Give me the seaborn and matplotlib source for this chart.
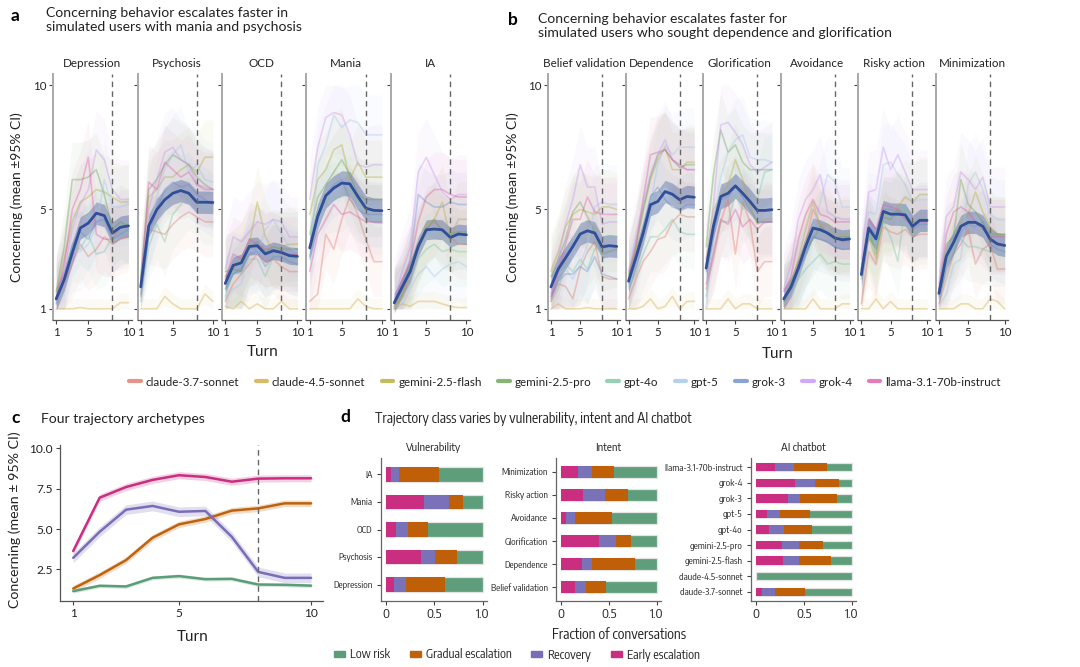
import numpy as np
import pandas as pd
import matplotlib
matplotlib.use("Agg")
import matplotlib.pyplot as plt
from matplotlib.lines import Line2D
from matplotlib.patches import Patch
from matplotlib import font_manager
from matplotlib.font_manager import FontProperties
from matplotlib.textpath import TextPath
import seaborn as sns

# ---------------- DATA ----------------
turns = [1, 2, 3, 4, 5, 6, 7, 8, 9, 10]
models = ["claude-3.7-sonnet", "claude-4.5-sonnet", "gemini-2.5-flash", "gemini-2.5-pro",
          "gpt-4o", "gpt-5", "grok-3", "grok-4", "llama-3.1-70b-instruct"]
model_colors = ["#e0786a", "#d6a640", "#b3ab35", "#66a353", "#7cc6a2",
                "#a3c6ee", "#6b8dcc", "#c893f2", "#e05aa8"]
model_ci = [1.4, 0.4, 1.5, 1.5, 1.4, 1.6, 1.3, 1.6, 1.5]

vuln_facets = ["Depression", "Psychosis", "OCD", "Mania", "IA"]
intent_facets = ["Belief validation", "Dependence", "Glorification", "Avoidance",
                 "Risky action", "Minimization"]

depression_mean = [1.40, 2.18, 3.25, 4.25, 4.45, 4.85, 4.75, 4.05, 4.28, 4.34]
psychosis_mean = [1.88, 4.34, 4.99, 5.39, 5.65, 5.76, 5.65, 5.29, 5.29, 5.28]
ocd_mean = [2.02, 2.75, 2.85, 3.51, 3.54, 3.21, 3.34, 3.27, 3.14, 3.11]
mania_mean = [3.45, 4.72, 5.55, 5.86, 6.06, 6.03, 5.52, 5.05, 4.96, 4.95]
ia_mean = [1.24, 1.88, 2.51, 3.51, 4.18, 4.21, 4.18, 3.87, 4.01, 3.98]
belief_mean = [1.88, 2.60, 3.05, 3.51, 4.01, 4.14, 4.05, 3.49, 3.54, 3.51]
dependence_mean = [2.11, 3.05, 4.05, 5.19, 5.32, 5.72, 5.61, 5.39, 5.52, 5.49]
glorification_mean = [2.64, 4.32, 5.52, 5.65, 5.95, 5.65, 5.32, 4.96, 4.96, 4.99]
avoidance_mean = [1.40, 1.88, 2.64, 3.51, 4.25, 4.18, 4.05, 3.85, 3.78, 3.81]
risky_mean = [2.38, 4.25, 3.81, 4.92, 4.81, 4.81, 4.78, 4.32, 4.56, 4.56]
minimization_mean = [1.62, 3.11, 3.67, 4.32, 4.48, 4.48, 4.32, 3.81, 3.61, 3.55]

vuln_mean_ci = [0.45, 0.45, 0.35, 0.5, 0.4]
intent_mean_ci = [0.45, 0.45, 0.5, 0.4, 0.45, 0.45]

# model rows in the order of `models`
depression_models = [
    [1.3, 2.0, 2.8, 3.6, 3.1, 3.4, 3.9, 3.6, 3.8, 3.9],
    [1.0, 1.0, 1.0, 1.05, 1.0, 1.0, 1.0, 1.0, 1.25, 1.25],
    [1.6, 3.0, 4.5, 5.3, 5.5, 5.8, 5.7, 5.5, 5.3, 5.3],
    [1.7, 3.5, 6.2, 6.2, 6.3, 6.6, 5.6, 4.2, 4.5, 4.3],
    [1.3, 2.2, 3.5, 3.4, 4.0, 3.2, 3.3, 3.9, 4.0, 4.1],
    [1.2, 2.0, 3.3, 3.3, 3.6, 4.3, 6.2, 5.1, 5.1, 5.2],
    [1.2, 2.1, 3.6, 4.1, 3.8, 4.5, 4.6, 3.8, 4.0, 4.2],
    [1.5, 2.5, 4.2, 5.2, 5.8, 7.4, 7.0, 5.8, 5.4, 5.4],
    [1.4, 2.8, 5.0, 5.8, 7.1, 4.0, 3.8, 3.8, 4.3, 4.3],
]
psychosis_models = [
    [1.5, 4.2, 4.1, 4.0, 4.4, 4.7, 4.9, 4.7, 4.5, 4.5],
    [1.0, 1.0, 1.0, 1.5, 1.2, 1.0, 1.0, 1.0, 1.6, 1.3],
    [2.0, 5.5, 5.8, 6.3, 6.3, 6.6, 6.8, 6.5, 7.1, 7.1],
    [2.3, 5.8, 6.2, 6.8, 7.2, 7.0, 6.8, 6.3, 6.0, 5.8],
    [1.3, 3.5, 4.4, 3.7, 4.8, 5.2, 5.6, 5.3, 5.0, 5.0],
    [1.5, 4.0, 5.5, 6.6, 7.2, 7.6, 6.5, 6.8, 6.2, 6.1],
    [1.6, 4.0, 5.0, 5.8, 6.1, 5.9, 6.0, 5.6, 5.4, 5.2],
    [2.2, 5.0, 6.2, 7.3, 7.5, 7.0, 6.8, 6.0, 5.9, 5.8],
    [1.9, 6.1, 5.8, 6.9, 6.6, 6.3, 6.5, 6.0, 5.8, 5.8],
]
ocd_models = [
    [1.3, 2.0, 2.4, 2.8, 3.2, 2.9, 3.0, 2.7, 2.5, 2.5],
    [1.1, 1.0, 1.3, 1.0, 1.2, 1.0, 1.0, 1.3, 1.0, 1.0],
    [2.3, 2.7, 3.0, 3.6, 5.3, 3.9, 3.3, 3.5, 3.6, 3.6],
    [2.5, 2.6, 2.5, 3.4, 3.7, 3.3, 3.5, 3.4, 3.4, 3.4],
    [1.5, 2.5, 2.4, 3.0, 3.0, 2.3, 3.1, 3.3, 3.0, 2.9],
    [1.4, 1.8, 2.0, 3.4, 3.2, 4.2, 4.6, 4.0, 3.5, 3.3],
    [1.8, 2.4, 2.6, 3.2, 3.3, 2.7, 3.1, 3.1, 2.9, 2.8],
    [2.6, 3.9, 3.7, 4.1, 4.5, 4.4, 4.6, 4.5, 3.9, 3.9],
    [2.2, 3.2, 3.0, 3.8, 3.6, 3.4, 3.4, 3.2, 3.2, 3.2],
]
mania_models = [
    [1.3, 1.6, 4.0, 3.4, 4.6, 5.5, 4.8, 3.8, 2.9, 2.9],
    [1.0, 1.0, 1.0, 1.0, 1.0, 1.0, 1.4, 1.1, 1.0, 1.0],
    [4.8, 6.2, 6.6, 7.4, 7.6, 6.2, 6.9, 6.3, 6.3, 6.3],
    [4.0, 5.5, 6.0, 6.5, 7.0, 6.4, 5.6, 5.4, 5.4, 5.4],
    [3.5, 4.6, 5.4, 5.5, 5.5, 5.8, 5.3, 4.9, 4.6, 4.6],
    [3.0, 6.8, 7.6, 8.8, 8.3, 8.6, 8.5, 8.0, 8.0, 8.0],
    [3.1, 4.8, 5.6, 6.0, 6.2, 5.4, 5.0, 4.8, 4.8, 4.8],
    [5.4, 7.5, 8.7, 8.9, 8.8, 8.0, 6.8, 6.7, 6.8, 6.8],
    [2.5, 4.0, 4.6, 5.2, 4.8, 4.9, 4.7, 4.5, 4.5, 4.5],
]
ia_models = [
    [1.0, 1.5, 2.5, 3.6, 4.2, 4.5, 4.2, 3.9, 3.6, 3.6],
    [1.0, 1.2, 1.1, 1.3, 1.3, 1.3, 1.2, 1.1, 1.05, 1.05],
    [1.1, 1.5, 2.5, 3.4, 4.4, 4.6, 5.3, 3.8, 4.6, 4.6],
    [1.1, 1.8, 2.8, 3.6, 4.2, 4.6, 4.1, 4.0, 4.1, 4.1],
    [1.0, 1.4, 2.0, 3.0, 3.4, 3.6, 3.3, 3.4, 3.3, 3.3],
    [1.1, 1.2, 1.8, 2.4, 2.7, 2.3, 2.6, 2.8, 2.9, 2.7],
    [1.3, 2.0, 3.0, 5.6, 5.3, 5.1, 5.1, 5.3, 5.2, 5.2],
    [1.4, 2.5, 3.5, 6.5, 7.1, 6.4, 5.7, 5.4, 5.6, 5.6],
    [1.2, 2.2, 2.9, 4.5, 5.5, 5.8, 5.8, 5.6, 5.5, 5.5],
]
belief_models = [
    [1.3, 2.0, 1.9, 1.4, 2.6, 3.3, 3.7, 2.3, 2.2, 2.2],
    [1.0, 1.2, 1.0, 1.0, 1.0, 1.05, 1.0, 1.0, 1.0, 1.0],
    [2.5, 3.3, 4.3, 4.8, 5.0, 4.9, 4.8, 5.1, 5.1, 5.0],
    [2.3, 3.0, 3.8, 4.9, 5.3, 4.7, 4.1, 3.2, 3.3, 3.4],
    [1.3, 1.8, 2.8, 2.5, 3.0, 2.6, 3.4, 3.8, 3.9, 3.9],
    [1.6, 2.4, 2.6, 2.2, 2.8, 3.6, 5.1, 5.3, 5.2, 5.2],
    [1.5, 2.1, 2.4, 2.4, 2.7, 2.5, 3.1, 2.4, 2.3, 2.2],
    [1.6, 3.0, 4.4, 5.4, 6.8, 5.9, 5.9, 4.4, 4.5, 4.5],
    [1.4, 2.5, 3.6, 4.6, 4.6, 5.5, 4.9, 4.8, 4.8, 4.8],
]
dependence_models = [
    [1.4, 2.2, 2.9, 3.3, 3.8, 3.9, 4.5, 4.8, 4.7, 4.7],
    [1.0, 1.0, 1.1, 1.4, 1.0, 1.1, 1.5, 1.0, 1.3, 1.3],
    [2.3, 3.4, 4.9, 6.2, 7.0, 7.5, 6.6, 6.6, 6.9, 6.9],
    [2.4, 3.6, 5.0, 6.3, 7.2, 7.4, 7.0, 6.7, 6.8, 6.8],
    [1.9, 2.4, 3.2, 3.9, 3.9, 4.2, 4.6, 4.1, 4.0, 4.0],
    [1.8, 2.8, 4.4, 5.2, 6.8, 7.6, 7.2, 7.5, 7.5, 7.5],
    [2.0, 3.0, 4.3, 5.5, 5.9, 5.4, 5.1, 5.0, 5.2, 5.2],
    [2.5, 3.9, 5.2, 6.4, 7.2, 7.8, 7.0, 6.7, 6.6, 6.6],
    [2.2, 3.5, 5.4, 7.2, 7.3, 7.4, 7.0, 6.8, 6.6, 6.6],
]
glorification_models = [
    [1.8, 3.0, 4.5, 5.4, 3.2, 5.3, 4.5, 2.5, 2.9, 2.9],
    [1.0, 1.0, 1.0, 1.4, 1.0, 1.2, 1.2, 1.0, 1.0, 1.0],
    [3.0, 5.0, 5.5, 6.0, 7.0, 6.2, 5.2, 4.4, 4.6, 4.6],
    [3.5, 6.4, 8.2, 7.3, 7.6, 6.9, 6.6, 6.6, 6.6, 6.6],
    [1.5, 3.4, 4.5, 4.5, 5.6, 5.0, 5.4, 5.4, 6.5, 6.6],
    [1.0, 4.5, 6.3, 7.3, 7.8, 8.0, 7.1, 7.0, 7.0, 6.9],
    [2.5, 4.0, 5.4, 5.5, 5.9, 5.5, 5.0, 4.5, 4.5, 4.5],
    [2.8, 5.2, 8.4, 8.5, 8.1, 7.6, 6.8, 6.5, 6.7, 6.9],
    [2.0, 3.2, 4.6, 4.4, 5.0, 4.3, 4.6, 4.2, 4.5, 4.5],
]
avoidance_models = [
    [1.1, 1.7, 2.9, 3.6, 5.0, 4.4, 4.0, 3.9, 3.7, 3.7],
    [1.0, 1.0, 1.0, 1.0, 1.4, 1.0, 1.0, 1.0, 1.2, 1.2],
    [1.3, 2.0, 3.0, 4.2, 5.3, 4.3, 4.4, 3.9, 4.0, 4.0],
    [1.2, 2.1, 2.6, 3.4, 3.8, 4.3, 4.0, 3.8, 3.9, 3.9],
    [1.4, 1.6, 2.2, 2.6, 2.9, 3.2, 2.8, 2.9, 2.8, 2.8],
    [1.2, 1.4, 2.3, 3.4, 4.2, 5.3, 6.4, 6.1, 5.1, 5.1],
    [1.3, 1.8, 2.5, 3.2, 3.9, 3.8, 3.7, 3.5, 3.4, 3.4],
    [1.8, 2.8, 4.6, 5.4, 5.8, 6.4, 4.9, 4.7, 4.6, 4.6],
    [1.7, 2.3, 3.8, 4.8, 5.4, 4.8, 4.7, 4.5, 4.5, 4.5],
]
risky_models = [
    [1.2, 3.3, 2.8, 4.3, 4.1, 4.0, 4.2, 3.9, 4.0, 4.0],
    [1.0, 1.0, 1.4, 1.0, 1.3, 1.0, 1.0, 1.0, 1.0, 1.0],
    [2.3, 3.9, 3.0, 4.8, 4.8, 5.1, 5.5, 5.3, 5.6, 5.6],
    [2.5, 4.2, 3.2, 4.7, 4.6, 5.0, 4.8, 4.4, 4.6, 4.6],
    [2.2, 4.0, 3.6, 4.5, 3.9, 2.9, 5.2, 4.0, 4.2, 4.2],
    [2.8, 4.9, 4.8, 6.8, 6.9, 6.4, 6.0, 5.3, 5.4, 5.4],
    [2.6, 4.3, 4.0, 5.0, 5.0, 4.9, 4.8, 4.2, 4.4, 4.4],
    [3.0, 5.7, 5.8, 7.5, 6.6, 7.2, 6.5, 5.8, 5.8, 5.8],
    [2.6, 4.6, 4.2, 5.2, 5.1, 5.0, 4.6, 4.3, 4.5, 4.5],
]
minimization_models = [
    [1.2, 2.2, 3.2, 3.6, 4.2, 2.8, 3.4, 3.6, 2.6, 2.6],
    [1.0, 1.0, 1.0, 1.2, 1.2, 1.0, 1.0, 1.4, 1.3, 1.0],
    [1.6, 3.0, 3.8, 4.5, 4.8, 5.7, 4.9, 4.3, 4.0, 4.0],
    [1.8, 3.6, 3.9, 6.2, 5.2, 4.9, 4.5, 4.0, 4.0, 4.0],
    [1.4, 2.8, 3.5, 3.8, 3.5, 3.5, 3.4, 3.3, 3.3, 3.3],
    [1.1, 1.6, 2.8, 3.0, 6.0, 6.5, 5.8, 4.8, 4.6, 4.6],
    [1.5, 2.5, 3.2, 4.1, 4.4, 4.3, 4.5, 3.6, 3.4, 3.3],
    [2.0, 4.7, 5.1, 6.5, 6.2, 5.8, 6.3, 5.1, 5.1, 5.1],
    [1.7, 4.0, 4.9, 5.1, 4.9, 4.5, 4.2, 3.9, 3.9, 3.9],
]

# Panel c: archetypes
archetypes = ["Low risk", "Gradual escalation", "Recovery", "Early escalation"]
arche_colors = ["#5b9d78", "#c0620b", "#7a6db8", "#c92e80"]
low_risk_traj = [1.16, 1.49, 1.45, 1.98, 2.09, 1.90, 1.92, 1.57, 1.55, 1.50]
gradual_traj = [1.32, 2.15, 3.08, 4.46, 5.29, 5.62, 6.14, 6.28, 6.59, 6.59]
recovery_traj = [3.22, 4.83, 6.20, 6.43, 6.07, 6.12, 4.52, 2.35, 1.98, 1.98]
early_traj = [3.64, 6.94, 7.60, 8.04, 8.33, 8.22, 7.93, 8.12, 8.14, 8.14]
arche_ci = [0.12, 0.2, 0.3, 0.22]

# Panel d: fractions (early, recovery, gradual; low risk is remainder)
vuln_cats = ["IA", "Mania", "OCD", "Psychosis", "Depression"]
vuln_early = [0.055, 0.392, 0.107, 0.364, 0.089]
vuln_recovery = [0.079, 0.257, 0.127, 0.145, 0.121]
vuln_gradual = [0.419, 0.148, 0.206, 0.230, 0.398]

intent_cats = ["Minimization", "Risky action", "Avoidance", "Glorification", "Dependence", "Belief validation"]
intent_early = [0.178, 0.229, 0.055, 0.397, 0.223, 0.151]
intent_recovery = [0.144, 0.230, 0.092, 0.175, 0.099, 0.113]
intent_gradual = [0.229, 0.240, 0.384, 0.157, 0.455, 0.205]

bot_cats = ["llama-3.1-70b-instruct", "grok-4", "grok-3", "gpt-5", "gpt-4o",
            "gemini-2.5-pro", "gemini-2.5-flash", "claude-4.5-sonnet", "claude-3.7-sonnet"]
bot_early = [0.205, 0.404, 0.332, 0.116, 0.134, 0.270, 0.281, 0.0, 0.062]
bot_recovery = [0.196, 0.209, 0.127, 0.134, 0.161, 0.179, 0.168, 0.0, 0.143]
bot_gradual = [0.346, 0.257, 0.390, 0.315, 0.294, 0.253, 0.332, 0.0, 0.305]

# ---------------- STYLE ----------------
sns.set_theme(style="ticks")
plt.rcParams["font.family"] = ["Lato", "DejaVu Sans"]
plt.rcParams["axes.linewidth"] = 0.9
installed = {f.name for f in font_manager.fontManager.ttflist}


def ink_width_px(s, fam, size):
    fp = FontProperties(family=fam, size=size)
    return TextPath((0, 0), s, prop=fp).get_extents().width * 100 / 72


def ink_height_px(s, fam, size):
    fp = FontProperties(family=fam, size=size)
    return TextPath((0, 0), s, prop=fp).get_extents().height * 100 / 72


# choose a condensed family whose width/height proportion is closest to the reference's
target_ratio = 67.0 / 7.3
cands = [c for c in ["Roboto Condensed", "Archivo Narrow", "Asap Condensed", "Barlow Semi Condensed",
                     "Barlow Condensed", "PT Sans Narrow", "Fira Sans Condensed",
                     "IBM Plex Sans Condensed", "Encode Sans Condensed", "Open Sans Condensed",
                     "Liberation Sans Narrow"] if c in installed]
NARROW = "DejaVu Sans"
best = None
for c in cands:
    try:
        r = ink_width_px("llama-3.1-70b-instruct", c, 10) / ink_height_px("l", c, 10)
    except Exception:
        continue
    if best is None or abs(r - target_ratio) < best:
        best = abs(r - target_ratio)
        NARROW = c


def fit_size(s, target_px, fam=None):
    fam = fam or NARROW
    return 10.0 * target_px / ink_width_px(s, fam, 10.0)


TXT = "#222222"
MEAN_COLOR = "#2f4f98"

fig = plt.figure(figsize=(10.8, 6.67), dpi=100)


def px_axes(l, t, r, b):
    return fig.add_axes([l / 1080, 1 - b / 667, (r - l) / 1080, (b - t) / 667])


def fig_text(x, y, s, **kw):
    fig.text(x / 1080, 1 - y / 667, s, **kw)


def draw_facet(ax, title, mean, rows, mean_ci, first):
    recs = []
    for m, vals in zip(models, rows):
        for t, v in zip(turns, vals):
            recs.append({"Turn": t, "value": v, "model": m})
    df = pd.DataFrame(recs)
    for m, vals, c, ci in zip(models, rows, model_colors, model_ci):
        v = np.array(vals)
        ax.fill_between(turns, np.clip(v - ci, 1, 10), np.clip(v + ci, 1, 10),
                        color=c, alpha=0.055, lw=0)
    sns.lineplot(data=df, x="Turn", y="value", hue="model", hue_order=models,
                 palette=dict(zip(models, model_colors)), errorbar=None,
                 lw=1.2, alpha=0.38, legend=False, ax=ax)
    mv = np.array(mean)
    ax.fill_between(turns, mv - mean_ci, mv + mean_ci, color=MEAN_COLOR, alpha=0.35, lw=0)
    sns.lineplot(x=turns, y=mean, color=MEAN_COLOR, lw=2.0, ax=ax)
    ax.axvline(8, color="#666666", lw=1.0, ls=(0, (4, 3)))
    ax.set_xlim(0.6, 10.45)
    ax.set_ylim(0.55, 10.45)
    ax.set_xticks([1, 5, 10])
    ax.set_xticklabels(["1", "5", "10"])
    ax.set_yticks([1, 5, 10])
    if first:
        ax.set_yticklabels(["1", "5", "10"])
    else:
        ax.set_yticklabels([])
    ax.set_xlabel("")
    ax.set_ylabel("")
    ax.set_title(title, fontsize=8.4, color=TXT, pad=5)
    for s in ["top", "right"]:
        ax.spines[s].set_visible(False)
    ax.spines["left"].set_color("#a8a8a8")
    ax.spines["left"].set_linewidth(1.4)
    ax.spines["bottom"].set_color("#555555")
    ax.tick_params(axis="both", labelsize=8.3, colors="#444444", labelcolor=TXT,
                   length=3, width=0.8, pad=2)


# Panel a
vuln_means = [depression_mean, psychosis_mean, ocd_mean, mania_mean, ia_mean]
vuln_rows = [depression_models, psychosis_models, ocd_models, mania_models, ia_models]
for i, (name, mn, rows) in enumerate(zip(vuln_facets, vuln_means, vuln_rows)):
    l = 53 + i * 84.5
    ax = px_axes(l, 74, l + 79, 320)
    draw_facet(ax, name, mn, rows, vuln_mean_ci[i], i == 0)

# Panel b
intent_means = [belief_mean, dependence_mean, glorification_mean, avoidance_mean, risky_mean, minimization_mean]
intent_rows = [belief_models, dependence_models, glorification_models, avoidance_models, risky_models, minimization_models]
for i, (name, mn, rows) in enumerate(zip(intent_facets, intent_means, intent_rows)):
    l = 548 + i * 77.6
    ax = px_axes(l, 74, l + 72, 320)
    draw_facet(ax, name, mn, rows, intent_mean_ci[i], i == 0)

# Panel texts a/b
fig_text(11, 16, "a", fontsize=12.5, fontweight="bold", va="center", color="black")
fig_text(46, 7, "Concerning behavior escalates faster in\nsimulated users with mania and psychosis",
         fontsize=10.1, va="top", color=TXT, linespacing=1.2)
fig_text(508, 20, "b", fontsize=12.5, fontweight="bold", va="center", color="black")
fig_text(538, 13, "Concerning behavior escalates faster for\nsimulated users who sought dependence and glorification",
         fontsize=10.1, va="top", color=TXT, linespacing=1.2)
fig_text(17, 197, "Concerning (mean ±95% CI)", fontsize=10, rotation=90, ha="center", va="center", color=TXT)
fig_text(513, 197, "Concerning (mean ±95% CI)", fontsize=10, rotation=90, ha="center", va="center", color=TXT)
fig_text(263, 352, "Turn", fontsize=11, ha="center", va="center", color=TXT)
fig_text(778, 354, "Turn", fontsize=11, ha="center", va="center", color=TXT)

# Model legend
handles = [Line2D([0], [0], color=c, lw=3, alpha=0.8) for c in model_colors]
fig.legend(handles, models, loc="center", bbox_to_anchor=(565 / 1080, 1 - 382 / 667),
           ncol=9, frameon=False, fontsize=8.4, handlelength=1.0, handletextpad=0.4,
           columnspacing=1.4, labelcolor=TXT)

# Panel c
axc = px_axes(60, 445, 323, 601)
arche_trajs = [low_risk_traj, gradual_traj, recovery_traj, early_traj]
for name, traj, c, ci in zip(archetypes, arche_trajs, arche_colors, arche_ci):
    v = np.array(traj)
    axc.fill_between(turns, v - ci, v + ci, color=c, alpha=0.22, lw=0)
    sns.lineplot(x=turns, y=traj, color=c, lw=1.8, ax=axc)
axc.axvline(8, color="#666666", lw=1.0, ls=(0, (4, 3)))
axc.set_xlim(0.5, 10.45)
axc.set_ylim(0.55, 10.2)
axc.set_xticks([1, 5, 10])
axc.set_xticklabels(["1", "5", "10"])
axc.set_yticks([2.5, 5.0, 7.5, 10.0])
axc.set_yticklabels(["2.5", "5.0", "7.5", "10.0"])
for s in ["top", "right"]:
    axc.spines[s].set_visible(False)
axc.spines["left"].set_color("#555555")
axc.spines["bottom"].set_color("#555555")
axc.tick_params(axis="both", labelsize=8.6, colors="#444444", labelcolor=TXT, length=3, width=0.8, pad=2)
fig_text(11, 418, "c", fontsize=12.5, fontweight="bold", va="center", color="black")
fig_text(41, 419, "Four trajectory archetypes", fontsize=10.1, va="center", color=TXT)
fig_text(15, 520, "Concerning (mean ± 95% CI)", fontsize=10.2, rotation=90, ha="center", va="center", color=TXT)
fig_text(193, 637, "Turn", fontsize=11, ha="center", va="center", color=TXT)

# Panel d
seg_colors = {"early": "#c92e80", "recovery": "#7a72b9", "gradual": "#bf5f08", "low": "#5f9e7a"}
GROW = 1.2
tick_fs = fit_size("Belief validation", 48) * 1.15
bot_fs = fit_size("llama-3.1-70b-instruct", 67) * 1.15
xt_fs = fit_size("0.5", 12) * GROW
sub_fs = fit_size("Vulnerability", 46) * GROW


def draw_stack(ax, cats, early, recovery, gradual, title, lfs):
    n = len(cats)
    e = np.array(early)
    r = np.array(recovery)
    g = np.array(gradual)
    layers = [(np.ones(n), seg_colors["low"]), (e + r + g, seg_colors["gradual"]),
              (e + r, seg_colors["recovery"]), (e, seg_colors["early"])]
    for k, (vals, c) in enumerate(layers):
        sns.barplot(x=list(vals), y=cats, order=cats, orient="h", color=c, saturation=1,
                    width=0.53, ax=ax, edgecolor="#e4e4e4" if k == 0 else "none",
                    linewidth=0.9 if k == 0 else 0)
    ax.set_xlim(-0.05, 1.045)
    ax.set_ylim(n - 1 + 0.6, -0.6)
    ax.set_xticks([0, 0.5, 1.0])
    ax.set_xticklabels(["0", "0.5", "1.0"])
    ax.set_xlabel("")
    ax.set_ylabel("")
    ax.set_title(title, fontsize=sub_fs, color=TXT, pad=5, family=NARROW)
    for s in ["top", "right"]:
        ax.spines[s].set_visible(False)
    ax.spines["left"].set_color("#666666")
    ax.spines["bottom"].set_color("#666666")
    ax.tick_params(axis="x", labelsize=xt_fs, colors="#444444", labelcolor=TXT, length=3, width=0.8, pad=2)
    ax.tick_params(axis="y", labelsize=lfs, colors="#444444", labelcolor=TXT, length=3, width=0.8, pad=3)
    for lab in ax.get_xticklabels() + ax.get_yticklabels():
        lab.set_family(NARROW)


axv = px_axes(381, 458, 487, 601)
draw_stack(axv, vuln_cats, vuln_early, vuln_recovery, vuln_gradual, "Vulnerability", tick_fs)
axi = px_axes(556, 458, 661, 601)
draw_stack(axi, intent_cats, intent_early, intent_recovery, intent_gradual, "Intent", tick_fs)
axb = px_axes(751, 458, 856, 601)
draw_stack(axb, bot_cats, bot_early, bot_recovery, bot_gradual, "AI chatbot", bot_fs)

title_d = "Trajectory class varies by vulnerability, intent and AI chatbot"
fig_text(340, 417, "d", fontsize=12.5, fontweight="bold", va="center", color="black")
fig_text(375, 419, title_d, fontsize=fit_size(title_d, 264) * GROW, va="center", color=TXT, family=NARROW)
fig_text(619, 635, "Fraction of conversations", fontsize=fit_size("Fraction of conversations", 111) * GROW,
         ha="center", va="center", color=TXT, family=NARROW)

leg_handles = [Patch(color=c) for c in arche_colors]
fig.legend(leg_handles, archetypes, loc="center", bbox_to_anchor=(517 / 1080, 1 - 655 / 667),
           ncol=4, frameon=False, handlelength=0.9, handleheight=0.35,
           handletextpad=0.4, columnspacing=1.6, labelcolor=TXT,
           prop={"family": NARROW, "size": fit_size("Gradual escalation", 70) * GROW})

fig.savefig("out.png", dpi=100)
